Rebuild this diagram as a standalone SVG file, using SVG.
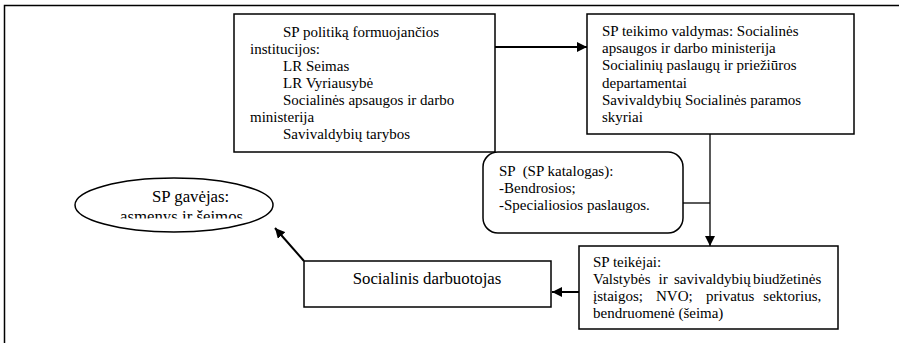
<svg xmlns="http://www.w3.org/2000/svg" width="899" height="343" viewBox="0 0 899 343">
  <style>
    .box { fill: #fff; stroke: #000; stroke-width: 1.5; }
    .t { font-size: 15px; fill: #000; }
    .t17 { font-size: 16.8px; fill: #000; }
    .wire { fill: none; stroke: #000; stroke-width: 1.3; }
    .wire2 { fill: none; stroke: #000; stroke-width: 2; }
  </style>
  <defs>
    <marker id="arrow" viewBox="0 0 10 10" refX="10" refY="5" markerWidth="10" markerHeight="10" markerUnits="userSpaceOnUse" orient="auto">
      <path d="M0,0 L10,5 L0,10 z" fill="#000"/>
    </marker>
    <clipPath id="ellClip">
      <rect x="60" y="170" width="230" height="48.5"/>
    </clipPath>
  </defs>

  <rect width="899" height="343" fill="#fff"/>
  <!-- page frame -->
  <path d="M4.5,343 V5.5 H899" fill="none" stroke="#000" stroke-width="1.5"/>

  <g id="connectors">
    <line class="wire2" x1="495" y1="47" x2="587" y2="47" marker-end="url(#arrow)"/>
    <line class="wire" x1="710" y1="134" x2="710" y2="246" marker-end="url(#arrow)"/>
    <line class="wire" x1="683" y1="203" x2="710" y2="203"/>
    <line class="wire2" x1="579" y1="292" x2="552" y2="292" marker-end="url(#arrow)"/>
    <line class="wire2" x1="304" y1="261" x2="275" y2="228" marker-end="url(#arrow)"/>
  </g>

  <g font-family="Liberation Serif, Tinos, DejaVu Serif, serif">
  <g id="policy">
    <rect class="box" x="234" y="14" width="261" height="138"/>
    <text class="t">
      <tspan x="283" y="37">SP politiką formuojančios</tspan>
      <tspan x="250" y="54">institucijos:</tspan>
      <tspan x="283" y="71">LR Seimas</tspan>
      <tspan x="283" y="88">LR Vyriausybė</tspan>
      <tspan x="283" y="105">Socialinės apsaugos ir darbo</tspan>
      <tspan x="250" y="122">ministerija</tspan>
      <tspan x="283" y="139">Savivaldybių tarybos</tspan>
    </text>
  </g>

  <g id="management">
    <rect class="box" x="587" y="14" width="267" height="120"/>
    <text class="t">
      <tspan x="602" y="36">SP teikimo valdymas: Socialinės</tspan>
      <tspan x="602" y="53">apsaugos ir darbo ministerija</tspan>
      <tspan x="602" y="70">Socialinių paslaugų ir priežiūros</tspan>
      <tspan x="602" y="88">departamentai</tspan>
      <tspan x="602" y="105">Savivaldybių Socialinės paramos</tspan>
      <tspan x="602" y="122">skyriai</tspan>
    </text>
  </g>

  <g id="catalogue">
    <rect class="box" x="483" y="152" width="200" height="81" rx="15" ry="15"/>
    <text class="t">
      <tspan x="499" y="176" xml:space="preserve">SP  (SP katalogas):</tspan>
      <tspan x="499" y="193">-Bendrosios;</tspan>
      <tspan x="499" y="210">-Specialiosios paslaugos.</tspan>
    </text>
  </g>

  <g id="providers">
    <rect class="box" x="579" y="246" width="259" height="83"/>
    <text class="t">
      <tspan x="593" y="267">SP teikėjai:</tspan>
      <tspan x="593" y="284">Valstybės</tspan><tspan x="658.5" y="284">ir</tspan><tspan x="674" y="284">savivaldybių</tspan><tspan x="825" y="284" text-anchor="end">biudžetinės</tspan>
      <tspan x="593" y="301">įstaigos;</tspan><tspan x="656" y="301">NVO;</tspan><tspan x="706" y="301">privatus</tspan><tspan x="825" y="301" text-anchor="end">sektorius,</tspan>
      <tspan x="593" y="318">bendruomenė (šeima)</tspan>
    </text>
  </g>

  <g id="worker">
    <rect class="box" x="304" y="261" width="247" height="46"/>
    <text class="t17" x="427" y="284" text-anchor="middle">Socialinis darbuotojas</text>
  </g>

  <g id="recipient">
    <ellipse class="box" cx="174" cy="205" rx="99" ry="27"/>
    <text class="t17" x="152" y="202">SP gavėjas:</text>
    <text class="t17" x="120" y="222" clip-path="url(#ellClip)">asmenys ir šeimos</text>
  </g>
  </g>
</svg>
